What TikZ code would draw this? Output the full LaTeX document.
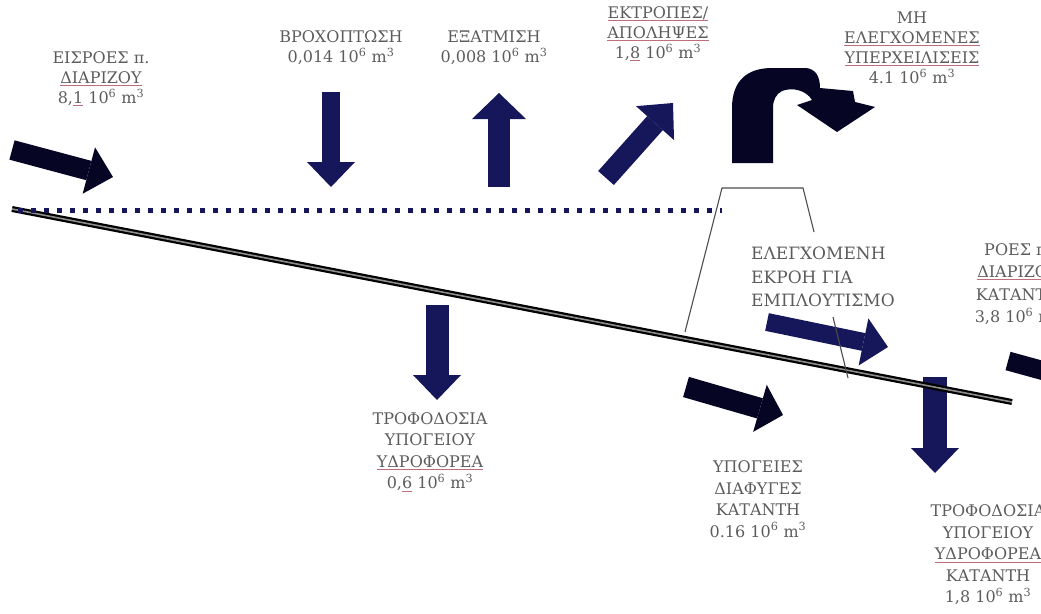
\documentclass[tikz,border=0pt]{standalone}
\usepackage{fontspec}
\setmainfont{DejaVu Serif}
\usetikzlibrary{arrows.meta}
\definecolor{navy}{RGB}{22,22,90}
\definecolor{inknavy}{RGB}{6,6,36}
\definecolor{txtgray}{RGB}{92,92,92}
\definecolor{spellred}{RGB}{190,110,120}
\newsavebox{\spellbox}
\newcommand{\spell}[1]{\sbox{\spellbox}{#1}\rlap{\textcolor{spellred}{\rule[-2.5pt]{\wd\spellbox}{0.8pt}}}\usebox{\spellbox}}
\newcommand{\vol}{10\textsuperscript{6} m\textsuperscript{3}}
\tikzset{
  lbl/.style={font=\fontsize{16}{21.5}\selectfont, text=txtgray, align=center, inner sep=1pt},
  toplbl/.style={lbl, font=\fontsize{16}{20}\selectfont},
  flowarrow/.style={line width=#1, -{Triangle[width=48pt,length=25pt,line width=0pt]}},
  thinline/.style={line width=1.1pt, draw=black!70}
}
\begin{document}
\begin{tikzpicture}[x=1pt, y=-1pt]
  \useasboundingbox (0,0) rectangle (1041,613);
  \clip (0,0) rectangle (1041,613);
  \coordinate (bedL) at (12,209);
  \coordinate (bedR) at (1012,402);
  \coordinate (dotL) at (18,210);
  \coordinate (dotR) at (722,210);
  \coordinate (t1) at (685,332);
  \coordinate (t2) at (722,188);
  \coordinate (t3) at (803,188);
  \coordinate (t4) at (814,232);
  \coordinate (t5) at (833,317);
  \coordinate (t6) at (848,378);
  % arrows
  \coordinate (inA) at (12,150);   \coordinate (inB) at (113,177);
  \coordinate (rainA) at (331,92); \coordinate (rainB) at (331,187);
  \coordinate (evapA) at (499,187); \coordinate (evapB) at (499,93);
  \coordinate (divA) at (606,178); \coordinate (divB) at (673,103);
  \coordinate (ctrlA) at (767,322); \coordinate (ctrlB) at (888,347);
  \coordinate (rechA) at (437,305); \coordinate (rechB) at (437,400);
  \coordinate (leakA) at (686,387); \coordinate (leakB) at (783,415);
  \coordinate (rech2A) at (935,377); \coordinate (rech2B) at (935,473);
  \coordinate (outA) at (1008,361); \coordinate (outB) at (1110,389);
  \draw[flowarrow=24pt, navy] (rech2A) -- (rech2B);
  \draw[line width=6pt] (bedL) -- (bedR);
  \draw[line width=1.6pt, black!45] (bedL) -- (bedR);
  \draw[navy, line width=5pt, dash pattern=on 5pt off 8pt] (dotL) -- (dotR);
  \draw[flowarrow=20pt, inknavy] (inA) -- (inB);
  \draw[flowarrow=18pt, navy] (rainA) -- (rainB);
  \draw[flowarrow=22pt, navy, -{Triangle[width=54pt,length=26pt,line width=0pt]}] (evapA) -- (evapB);
  \draw[flowarrow=21pt, navy, -{Triangle[width=51pt,length=27pt,line width=0pt]}] (divA) -- (divB);
  \draw[flowarrow=23pt, navy] (rechA) -- (rechB);
  \draw[flowarrow=21pt, inknavy, -{Triangle[width=49pt,length=24pt,line width=0pt]}] (leakA) -- (leakB);
  \draw[flowarrow=19pt, inknavy] (outA) -- (outB);
  \fill[inknavy] (732,163) -- (732,108) .. controls (732,80) and (748,68) .. (772,68)
    -- (806,68) .. controls (816,69) and (820,77) .. (820,88) -- (853,91) -- (855,102)
    -- (875,107) -- (837,132) -- (797,105) -- (812,100)
    .. controls (806,90) and (792,87) .. (782,91) .. controls (776,94) and (773,100) .. (773,108)
    -- (773,163) -- cycle;
  \draw[flowarrow=18pt, navy] (ctrlA) -- (ctrlB);
  \draw[thinline] (t1) -- (t2) -- (t3) -- (t4) (t5) -- (t6);
  % labels
  \node[toplbl] (inflow) at (101,79) {ΕΙΣΡΟΕΣ π.\\ \spell{ΔΙΑΡΙΖΟΥ}\\ 8,\spell{1} \vol};
  \node[toplbl] (rain) at (341,48) {ΒΡΟΧΟΠΤΩΣΗ\\ 0,014 \vol};
  \node[toplbl] (evap) at (494,48) {ΕΞΑΤΜΙΣΗ\\ 0,008 \vol};
  \node[toplbl] (divert) at (658,34) {\spell{ΕΚΤΡΟΠΕΣ/}\\ \spell{ΑΠΟΛΗΨΕΣ}\\ 1,\spell{8} \vol};
  \node[toplbl] (spill) at (912,48) {ΜΗ\\ \spell{ΕΛΕΓΧΟΜΕΝΕΣ}\\ \spell{ΥΠΕΡΧΕΙΛΙΣΕΙΣ}\\ 4.1 \vol};
  \node[lbl, align=left, anchor=west, font=\fontsize{17}{23.5}\selectfont] (ctrl) at (750,277) {ΕΛΕΓΧΟΜΕΝΗ\\ ΕΚΡΟΗ ΓΙΑ\\ ΕΜΠΛΟΥΤΙΣΜΟ};
  \node[lbl, font=\fontsize{16}{22.5}\selectfont] (down) at (1018,284) {ΡΟΕΣ π.\\ \spell{ΔΙΑΡΙΖΟΥ}\\ ΚΑΤΑΝΤΗ\\ 3,8 \vol};
  \node[lbl] (recharge) at (430,452) {ΤΡΟΦΟΔΟΣΙΑ\\ ΥΠΟΓΕΙΟΥ\\ \spell{ΥΔΡΟΦΟΡΕΑ}\\ 0,\spell{6} \vol};
  \node[lbl] (leak) at (758,499) {ΥΠΟΓΕΙΕΣ\\ ΔΙΑΦΥΓΕΣ\\ ΚΑΤΑΝΤΗ\\ 0.16 \vol};
  \node[lbl] (recharge2) at (988,555) {ΤΡΟΦΟΔΟΣΙΑ\\ ΥΠΟΓΕΙΟΥ\\ \spell{ΥΔΡΟΦΟΡΕΑ}\\ ΚΑΤΑΝΤΗ\\ 1,8 \vol};
\end{tikzpicture}
\end{document}
